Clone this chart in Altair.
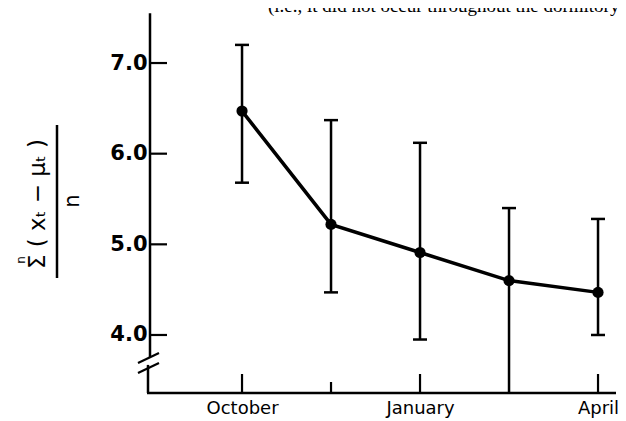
import altair as alt
import pandas as pd

# ---- data ----
positions = [0, 1, 2, 3, 4]
means = [6.47, 5.22, 4.91, 4.60, 4.47]
upper = [7.20, 6.37, 6.12, 5.40, 5.28]
lower = [5.68, 4.47, 3.95, 3.30, 4.00]

major_tick_pos = [0, 2, 4]
major_tick_labels = ["October", "January", "April"]
minor_tick_pos = [1]
y_tick_values = [4.0, 5.0, 6.0, 7.0]

axis_top = [7.55]
break_gap_top = [3.757]
break_gap_bottom = [3.67]
slash_from = [3.69, 3.58]
slash_to = [3.80, 3.69]

caption = ["(i.e., it did not occur throughout the dormitory"]
numerator = ["\u03a3 ( x\u209c \u2212 \u03bc\u209c )"]
sum_index = ["n"]
denominator = ["n"]

# ---- scales / axes ----
xs = alt.Scale(domain=[-1.034, 4.202], nice=False, zero=False)
ys = alt.Scale(domain=[3.36, 7.607], nice=False, zero=False)

expr = "''"
for p, l in reversed(list(zip(major_tick_pos, major_tick_labels))):
    expr = f"datum.value == {p} ? '{l}' : {expr}"

xaxis = alt.Axis(values=major_tick_pos, labelExpr=expr, ticks=False, domain=False,
                 grid=False, labelFontSize=18, labelFont="DejaVu Sans",
                 labelColor="black", labelPadding=6, title=None, labelFlush=False)
yaxis = alt.Axis(values=y_tick_values, format=".1f", ticks=False, domain=False,
                 grid=False, labelFontSize=21, labelFontWeight="bold",
                 labelFont="DejaVu Sans", labelColor="black", labelPadding=3,
                 title=None)

df = pd.DataFrame({"idx": positions, "mean": means, "lo": lower, "hi": upper})
base = alt.Chart(df)

X = lambda f: alt.X(f, scale=xs, axis=xaxis)
Y = lambda f: alt.Y(f, scale=ys, axis=yaxis)

err = base.mark_rule(color="black", strokeWidth=2.5, clip=True).encode(
    x=X("idx:Q"), y=Y("lo:Q"), y2="hi:Q")
cap_hi = base.mark_tick(orient="horizontal", size=14, thickness=2.5, color="black",
                        opacity=1, clip=True).encode(x=X("idx:Q"), y=Y("hi:Q"))
cap_lo = base.mark_tick(orient="horizontal", size=14, thickness=2.5, color="black",
                        opacity=1, clip=True).encode(x=X("idx:Q"), y=Y("lo:Q"))
line = base.mark_line(color="black", strokeWidth=3.5).encode(x=X("idx:Q"), y=Y("mean:Q"))
pts = base.mark_circle(size=125, color="black", opacity=1).encode(x=X("idx:Q"), y=Y("mean:Q"))

# axes lines
yaxis_top = alt.Chart(pd.DataFrame({"a": axis_top, "b": break_gap_top})).mark_rule(
    color="black", strokeWidth=2.5).encode(x=alt.value(0), y=Y("a:Q"), y2="b:Q")
yaxis_bot = alt.Chart(pd.DataFrame({"a": break_gap_bottom})).mark_rule(
    color="black", strokeWidth=2.5).encode(x=alt.value(-2), y=Y("a:Q"), y2=alt.value(385))
xaxis_line = alt.Chart(pd.DataFrame({"a": [0]})).mark_rule(
    color="black", strokeWidth=2.5).encode(x=alt.value(-3), x2=alt.value(466), y=alt.value(385))
slashes = alt.Chart(pd.DataFrame({"a": slash_from, "b": slash_to})).mark_rule(
    color="black", strokeWidth=2.2).encode(x=alt.value(-12), x2=alt.value(9), y=Y("a:Q"), y2="b:Q")

yticks = alt.Chart(pd.DataFrame({"v": y_tick_values})).mark_rule(
    color="black", strokeWidth=2.2).encode(x=alt.value(0), x2=alt.value(17), y=Y("v:Q"))
xticks_major = alt.Chart(pd.DataFrame({"p": major_tick_pos})).mark_rule(
    color="black", strokeWidth=2.2).encode(x=X("p:Q"), y=alt.value(385), y2=alt.value(366))
xticks_minor = alt.Chart(pd.DataFrame({"p": minor_tick_pos})).mark_rule(
    color="black", strokeWidth=2.2).encode(x=X("p:Q"), y=alt.value(385), y2=alt.value(374))

# y-axis title as a fraction
num = alt.Chart(pd.DataFrame({"t": numerator})).mark_text(
    angle=270, fontSize=23, font="DejaVu Sans", color="black", align="center",
    baseline="middle").encode(text="t:N", x=alt.value(-112), y=alt.value(196))
sup = alt.Chart(pd.DataFrame({"t": sum_index})).mark_text(
    angle=270, fontSize=12, font="DejaVu Sans", color="black", align="center",
    baseline="middle").encode(text="t:N", x=alt.value(-129), y=alt.value(252))
bar = alt.Chart(pd.DataFrame({"a": [0]})).mark_rule(color="black", strokeWidth=2.5).encode(
    x=alt.value(-93), y=alt.value(117), y2=alt.value(270))
den = alt.Chart(pd.DataFrame({"t": denominator})).mark_text(
    angle=270, fontSize=21, font="DejaVu Sans", color="black", align="center",
    baseline="middle").encode(text="t:N", x=alt.value(-77), y=alt.value(193))

cap_text = alt.Chart(pd.DataFrame({"t": caption})).mark_text(
    fontSize=19, font="Liberation Serif", color="black", align="left",
    baseline="alphabetic").encode(text="t:N", x=alt.value(118), y=alt.value(4))

chart = alt.layer(
    err, cap_hi, cap_lo, line, pts,
    yaxis_top, yaxis_bot, xaxis_line, slashes, yticks, xticks_major, xticks_minor,
    num, sup, bar, den, cap_text,
).properties(
    width=466, height=385,
    padding={"left": 142, "top": 0, "right": 2, "bottom": 28},
    autosize="none", background="white",
).configure_view(stroke=None)

chart.save("out.html", embed_options={"renderer": "svg", "actions": False})
